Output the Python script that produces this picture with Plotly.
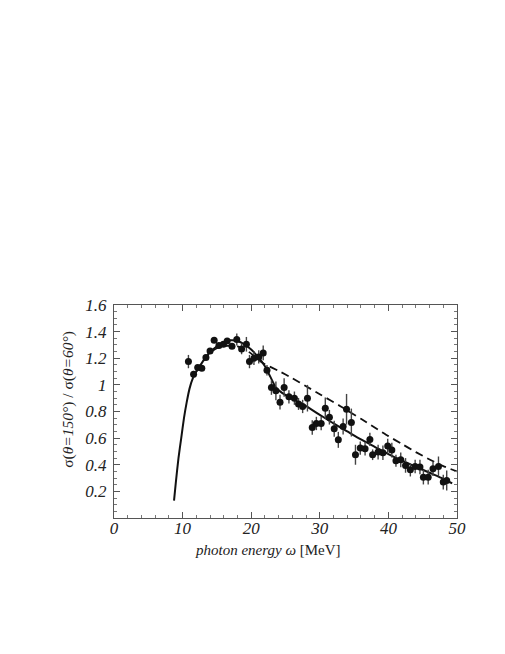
import plotly.graph_objects as go

# data points (photon energy in MeV, ratio, error)
energy = [10.85, 11.6, 12.2, 12.8, 13.4, 14.0, 14.6, 15.3, 15.95, 16.5, 17.2, 17.9, 18.6, 19.3,
          19.75, 20.4, 21.1, 21.75, 22.3, 22.95, 23.6, 24.2, 24.8, 25.5, 26.3, 26.9, 27.5, 28.2,
          28.9, 29.5, 30.2, 30.8, 31.4, 32.1, 32.7, 33.4, 33.9, 34.6, 35.2, 35.9, 36.6, 37.3,
          37.7, 38.5, 39.2, 39.9, 40.5, 41.1, 41.8, 42.5, 43.2, 43.9, 44.6, 45.1, 45.8, 46.5,
          47.3, 48.0, 48.5]
ratio = [1.175, 1.08, 1.13, 1.125, 1.205, 1.255, 1.335, 1.295, 1.305, 1.33, 1.29, 1.34, 1.27, 1.305,
         1.175, 1.2, 1.21, 1.24, 1.11, 0.98, 0.955, 0.87, 0.98, 0.91, 0.9, 0.857, 0.838, 0.9,
         0.68, 0.71, 0.71, 0.825, 0.757, 0.67, 0.587, 0.687, 0.817, 0.717, 0.475, 0.525, 0.52, 0.59,
         0.475, 0.495, 0.49, 0.54, 0.51, 0.43, 0.437, 0.395, 0.362, 0.387, 0.383, 0.307, 0.307, 0.37,
         0.387, 0.27, 0.282]
error = [0.05, 0.025, 0.02, 0.02, 0.02, 0.02, 0.015, 0.02, 0.02, 0.02, 0.02, 0.045, 0.04, 0.055,
         0.05, 0.05, 0.05, 0.055, 0.04, 0.055, 0.07, 0.055, 0.07, 0.05, 0.05, 0.045, 0.05, 0.1,
         0.055, 0.05, 0.05, 0.08, 0.055, 0.06, 0.06, 0.06, 0.115, 0.105, 0.075, 0.05, 0.05, 0.05,
         0.04, 0.055, 0.055, 0.055, 0.055, 0.045, 0.055, 0.055, 0.05, 0.05, 0.055, 0.055, 0.055, 0.055,
         0.075, 0.055, 0.075]

# solid theory curve
solid_x = [8.75, 9.0, 9.4, 9.8, 10.2, 10.6, 11.0, 11.5, 12.0, 12.5, 13.0, 14.0, 15.0, 16.0, 17.0,
           18.0, 19.0, 20.0, 21.0, 22.0, 22.8, 23.6, 24.5, 26.0, 28.0, 30.0, 32.0, 34.0, 36.0,
           38.0, 40.0, 42.0, 44.0, 46.0, 48.0, 49.3]
solid_y = [0.13, 0.26, 0.45, 0.60, 0.75, 0.87, 0.97, 1.05, 1.10, 1.14, 1.18, 1.245, 1.29, 1.32, 1.335,
           1.33, 1.305, 1.265, 1.21, 1.14, 1.06, 0.98, 0.94, 0.895, 0.84, 0.775, 0.71, 0.65, 0.59,
           0.535, 0.48, 0.43, 0.385, 0.34, 0.295, 0.26]

# dashed theory curve
dashed_x = [12.0, 13.0, 14.0, 15.0, 16.0, 17.0, 18.0, 19.0, 20.0, 21.0, 22.0, 24.0, 26.0, 28.0,
            30.0, 33.0, 36.0, 38.0, 40.0, 42.0, 44.0, 46.0, 48.0, 50.0]
dashed_y = [1.10, 1.18, 1.24, 1.275, 1.29, 1.295, 1.29, 1.27, 1.235, 1.19, 1.155, 1.105, 1.05, 0.99,
            0.93, 0.84, 0.745, 0.68, 0.615, 0.555, 0.495, 0.44, 0.39, 0.35]

x_ticks = [0, 10, 20, 30, 40, 50]
y_ticks = [0.2, 0.4, 0.6, 0.8, 1.0, 1.2, 1.4, 1.6]
y_tick_text = ["0.2", "0.4", "0.6", "0.8", "1", "1.2", "1.4", "1.6"]

FONT = "Liberation Serif"

fig = go.Figure()
fig.add_trace(go.Scatter(x=dashed_x, y=dashed_y, mode="lines", line=dict(color="#111", width=1.8, dash="8px,5px", shape="spline", smoothing=0.6), hoverinfo="skip"))
fig.add_trace(go.Scatter(x=solid_x, y=solid_y, mode="lines", line=dict(color="#111", width=2, shape="spline", smoothing=0.6), hoverinfo="skip"))
fig.add_trace(go.Scatter(x=energy, y=ratio, mode="markers",
                         marker=dict(color="#111", size=7),
                         error_y=dict(type="data", array=error, visible=True, color="#444", thickness=1.4, width=0)))

axis_common = dict(showgrid=False, zeroline=False, showline=True, linecolor="#555", linewidth=1,
                   mirror="ticks", ticks="inside", ticklen=6, tickcolor="#555", tickwidth=1,
                   tickfont=dict(family=FONT, size=17, color="#222", style="italic"))
fig.update_xaxes(range=[0, 50], tickvals=x_ticks, ticktext=[str(v) for v in x_ticks],
                 ticklabelstandoff=-5,
                 minor=dict(dtick=2, ticklen=3, ticks="inside", tickcolor="#777"), **axis_common)
fig.update_yaxes(range=[0, 1.6], tickvals=y_ticks, ticktext=y_tick_text,
                 ticklabelstandoff=3,
                 minor=dict(dtick=0.05, ticklen=3, ticks="inside", tickcolor="#777"), **axis_common)

fig.update_layout(
    width=497, height=646, showlegend=False,
    plot_bgcolor="white", paper_bgcolor="white",
    margin=dict(l=106, r=48, t=297, b=136),
    font=dict(family=FONT, color="#222"),
    annotations=[
        dict(text="<i>photon energy ω</i> [MeV]", xref="paper", yref="paper", x=0.448, y=-0.152,
             showarrow=False, font=dict(family=FONT, size=15, color="#222"), xanchor="center", yanchor="middle"),
        dict(text="σ(<i>θ=150°</i>) / σ(<i>θ=60°</i>)", xref="paper", yref="paper", x=-0.134, y=0.555,
             showarrow=False, textangle=-90, font=dict(family=FONT, size=15.5, color="#222"),
             xanchor="center", yanchor="middle"),
    ],
)

fig.write_html("out.html")
